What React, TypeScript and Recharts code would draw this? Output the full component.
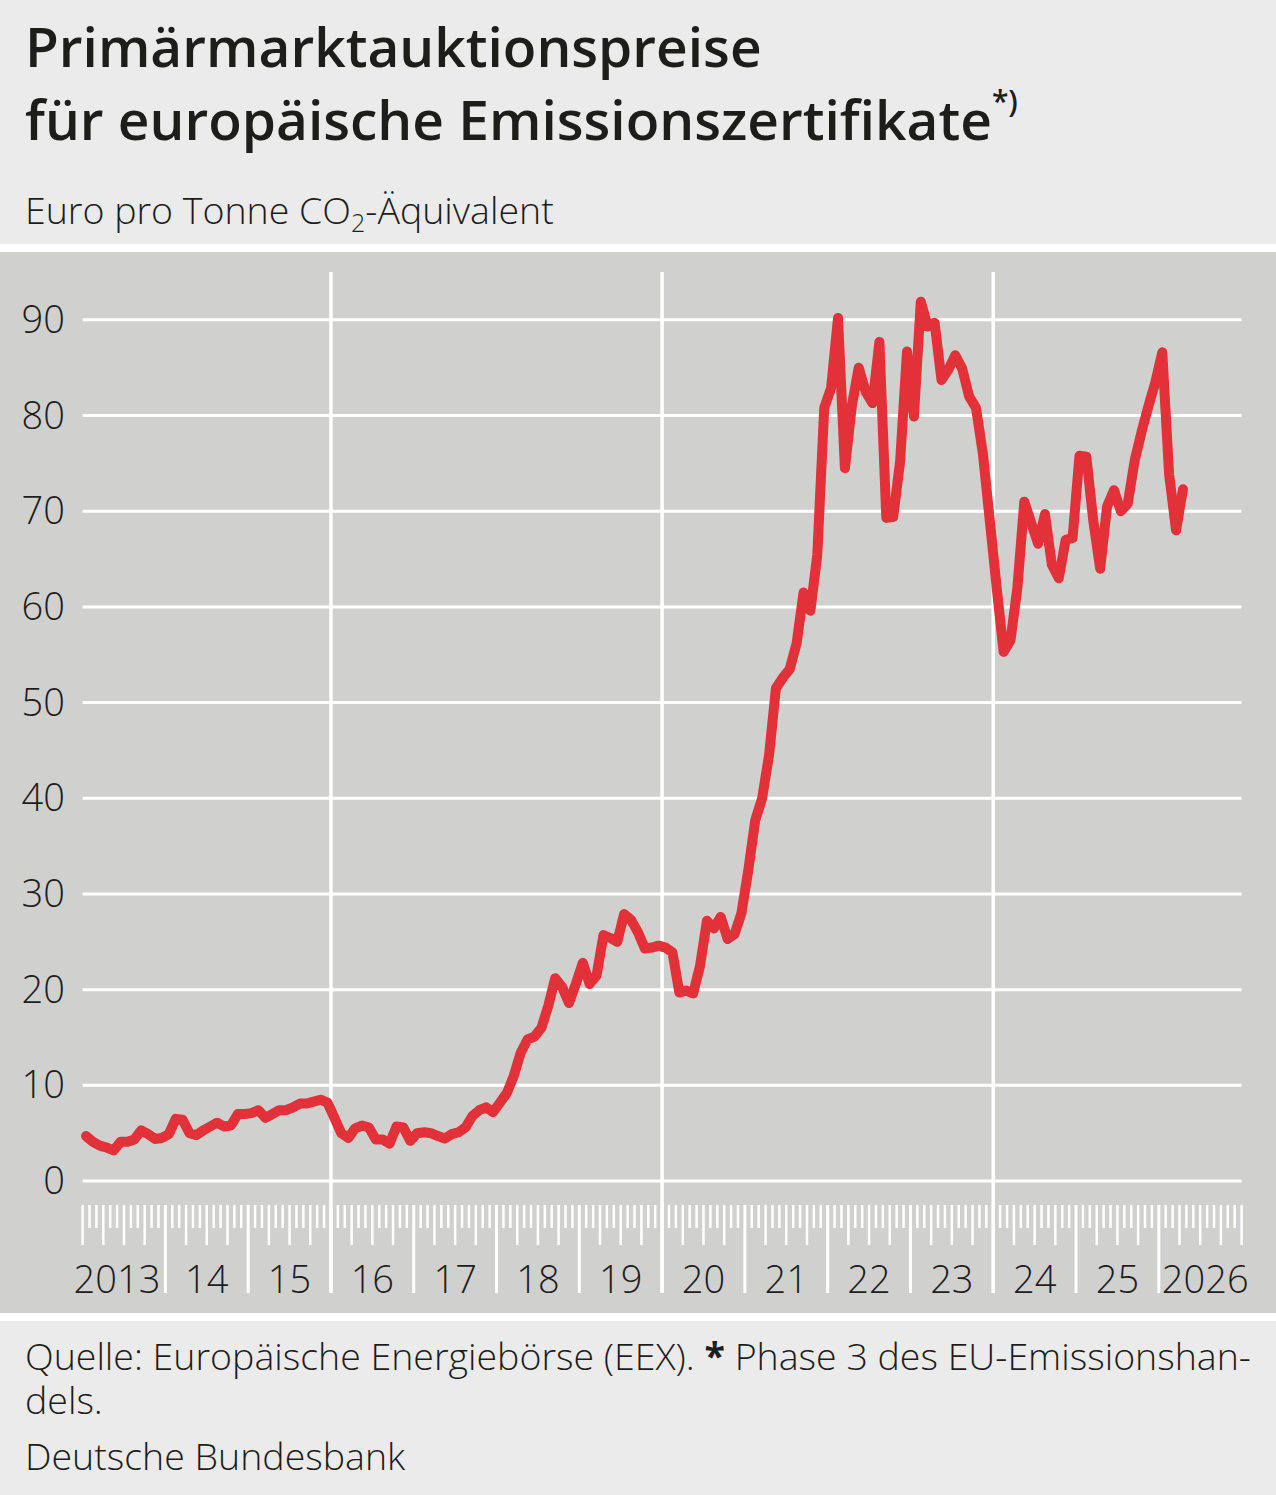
import { Line, LineChart, ReferenceLine, XAxis, YAxis } from "recharts"

// Monatswerte ab Januar 2013, Euro pro Tonne CO2-Äquivalent
const prices2013 = [4.7, 4.1, 3.7, 3.5, 3.2, 4.1, 4.1, 4.35, 5.3, 4.9, 4.4, 4.5]
const prices2014 = [4.9, 6.5, 6.4, 5.0, 4.8, 5.3, 5.7, 6.1, 5.7, 5.8, 7.0, 7.0]
const prices2015 = [7.1, 7.4, 6.6, 7.0, 7.4, 7.4, 7.7, 8.1, 8.1, 8.3, 8.5, 8.2]
const prices2016 = [6.6, 5.0, 4.5, 5.5, 5.8, 5.6, 4.35, 4.35, 3.9, 5.7, 5.6, 4.2]
const prices2017 = [5.0, 5.1, 5.0, 4.7, 4.45, 4.9, 5.1, 5.6, 6.8, 7.4, 7.7, 7.2]
const prices2018 = [8.2, 9.2, 11.0, 13.4, 14.8, 15.1, 16.0, 18.3, 21.2, 20.3, 18.6, 20.6]
const prices2019 = [22.8, 20.6, 21.5, 25.7, 25.4, 25.0, 27.9, 27.3, 26.0, 24.3, 24.4, 24.6]
const prices2020 = [24.4, 23.9, 19.7, 19.9, 19.6, 22.5, 27.2, 26.4, 27.6, 25.3, 25.8, 28.0]
const prices2021 = [32.5, 37.7, 40.0, 44.5, 51.5, 52.6, 53.5, 56.2, 61.5, 59.6, 65.5, 80.8]
const prices2022 = [82.9, 90.2, 74.5, 81.0, 85.0, 82.5, 81.3, 87.7, 69.3, 69.4, 75.2, 86.7]
const prices2023 = [79.9, 91.9, 89.3, 89.7, 83.7, 84.8, 86.3, 84.9, 82.0, 80.8, 76.0, 69.0]
const prices2024 = [62.0, 55.3, 56.5, 62.0, 71.0, 68.8, 66.6, 69.7, 64.4, 63.0, 67.0, 67.2]
const prices2025 = [75.8, 75.7, 69.0, 64.0, 70.5, 72.2, 70.0, 70.8, 75.3, 78.3, 81.0, 83.5]
const prices2026 = [86.6, 73.8, 68.0, 72.3]

const prices = [
  ...prices2013, ...prices2014, ...prices2015, ...prices2016, ...prices2017,
  ...prices2018, ...prices2019, ...prices2020, ...prices2021, ...prices2022,
  ...prices2023, ...prices2024, ...prices2025, ...prices2026,
]

const yearLabels = ["2013", "14", "15", "16", "17", "18", "19", "20", "21", "22", "23", "24", "25", "2026"]
const yTicks = [0, 10, 20, 30, 40, 50, 60, 70, 80, 90]
const markerYears = [2016, 2020, 2024]

const firstYear = 2013
const monthCount = yearLabels.length * 12
const monthTicks = Array.from({ length: monthCount + 1 }, (_, i) => i)
const rows = prices.map((price, i) => ({ t: i + 0.5, price }))

const RED = "#e3313a"
const TEXT = "#1d1d1b"
const FONT = "'Open Sans', 'Noto Sans', sans-serif"
const PLOT_LEFT = 82.6
const PLOT_RIGHT = 1241.6
const PLOT_BOTTOM = 1041
const HALF_YEAR = (PLOT_RIGHT - PLOT_LEFT) / yearLabels.length / 2

function YTick({ y, payload }: any) {
  return (
    <text x={65} y={y + 13} textAnchor="end" fontSize={38} fontWeight={300} fill={TEXT} fontFamily={FONT}>
      {payload.value}
    </text>
  )
}

function MonthTick({ x, payload }: any) {
  const m = payload.value as number
  const isYear = m % 12 === 0 && m > 0 && m < monthCount
  const isQuarter = m % 3 === 0
  const end = isYear ? PLOT_BOTTOM : isQuarter ? PLOT_BOTTOM - 48 : PLOT_BOTTOM - 65
  const idx = (m - 6) / 12
  const label = m % 12 === 6 ? yearLabels[idx] : null
  // first and last label sit against the year lines like in the original
  const first = idx === 0
  const last = idx === yearLabels.length - 1
  const lx = first ? x + HALF_YEAR - 5 : last ? x - HALF_YEAR + 3 : x
  const anchor = first ? "end" : last ? "start" : "middle"
  return (
    <g>
      <line x1={x} x2={x} y1={PLOT_BOTTOM - 88} y2={end} stroke="#fff" strokeWidth={isYear ? 3 : 2.5} />
      {label && (
        <text x={lx} y={PLOT_BOTTOM} textAnchor={anchor} fontSize={38} fontWeight={300} fill={TEXT} fontFamily={FONT}>
          {label}
        </text>
      )}
    </g>
  )
}

export default function App() {
  return (
    <div style={{ position: "absolute", left: 0, top: 0, width: 1276, height: 1495, background: "#ebebeb", fontFamily: FONT }}>
      <svg width={1276} height={244} style={{ position: "absolute", left: 0, top: 0 }}>
        <text x={25} y={67} fontSize={55} fontWeight={600} fill={TEXT} fontFamily={FONT}>
          Primärmarktauktionspreise
        </text>
        <text x={25} y={140} fontSize={55} fontWeight={600} fill={TEXT} fontFamily={FONT}>
          für europäische Emissionszertifikate
          <tspan fontSize={30} dy={-28}>*)</tspan>
        </text>
        <text x={25} y={224} fontSize={37.5} fontWeight={300} fill={TEXT} fontFamily={FONT}>
          Euro pro Tonne CO<tspan fontSize={25} dy={8}>2</tspan>
          <tspan dy={-8}>-Äquivalent</tspan>
        </text>
      </svg>
      <div style={{ position: "absolute", left: 0, top: 244, width: 1276, height: 8, background: "#fff" }} />
      <div style={{ position: "absolute", left: 0, top: 252, width: 1276, height: 1061, background: "#d0d0cf" }}>
        <LineChart
          width={1276}
          height={1061}
          data={rows}
          margin={{ top: 20, right: 1276 - PLOT_RIGHT, bottom: 0, left: PLOT_LEFT - 60 }}
        >
          {yTicks.map((v) => (
            <ReferenceLine key={`h${v}`} y={v} stroke="#fff" strokeWidth={3} />
          ))}
          {markerYears.map((yr) => (
            <ReferenceLine key={yr} x={(yr - firstYear) * 12} stroke="#fff" strokeWidth={3.5} />
          ))}
          <XAxis
            dataKey="t"
            type="number"
            domain={[0, monthCount]}
            ticks={monthTicks}
            interval={0}
            axisLine={false}
            tickLine={false}
            tickSize={0}
            tickMargin={0}
            height={20}
            tick={<MonthTick />}
          />
          <YAxis
            type="number"
            domain={[-11.7, 95]}
            ticks={yTicks}
            interval={0}
            allowDataOverflow
            axisLine={false}
            tickLine={false}
            width={60}
            tick={<YTick />}
          />
          <Line
            type="linear"
            dataKey="price"
            stroke={RED}
            strokeWidth={10}
            strokeLinejoin="round"
            strokeLinecap="round"
            dot={false}
            activeDot={false}
            isAnimationActive={false}
          />
        </LineChart>
      </div>
      <div style={{ position: "absolute", left: 0, top: 1313, width: 1276, height: 8, background: "#fff" }} />
      <svg width={1276} height={174} style={{ position: "absolute", left: 0, top: 1321 }}>
        <text x={25} y={49} fontSize={37.5} fontWeight={300} fill={TEXT} fontFamily={FONT}>
          Quelle: Europäische Energiebörse (EEX). <tspan fontWeight={700}>*</tspan> Phase 3 des EU-Emissionshan-
        </text>
        <text x={25} y={93} fontSize={37.5} fontWeight={300} fill={TEXT} fontFamily={FONT}>
          dels.
        </text>
        <text x={25} y={149} fontSize={37.5} fontWeight={300} fill={TEXT} fontFamily={FONT}>
          Deutsche Bundesbank
        </text>
      </svg>
    </div>
  )
}
